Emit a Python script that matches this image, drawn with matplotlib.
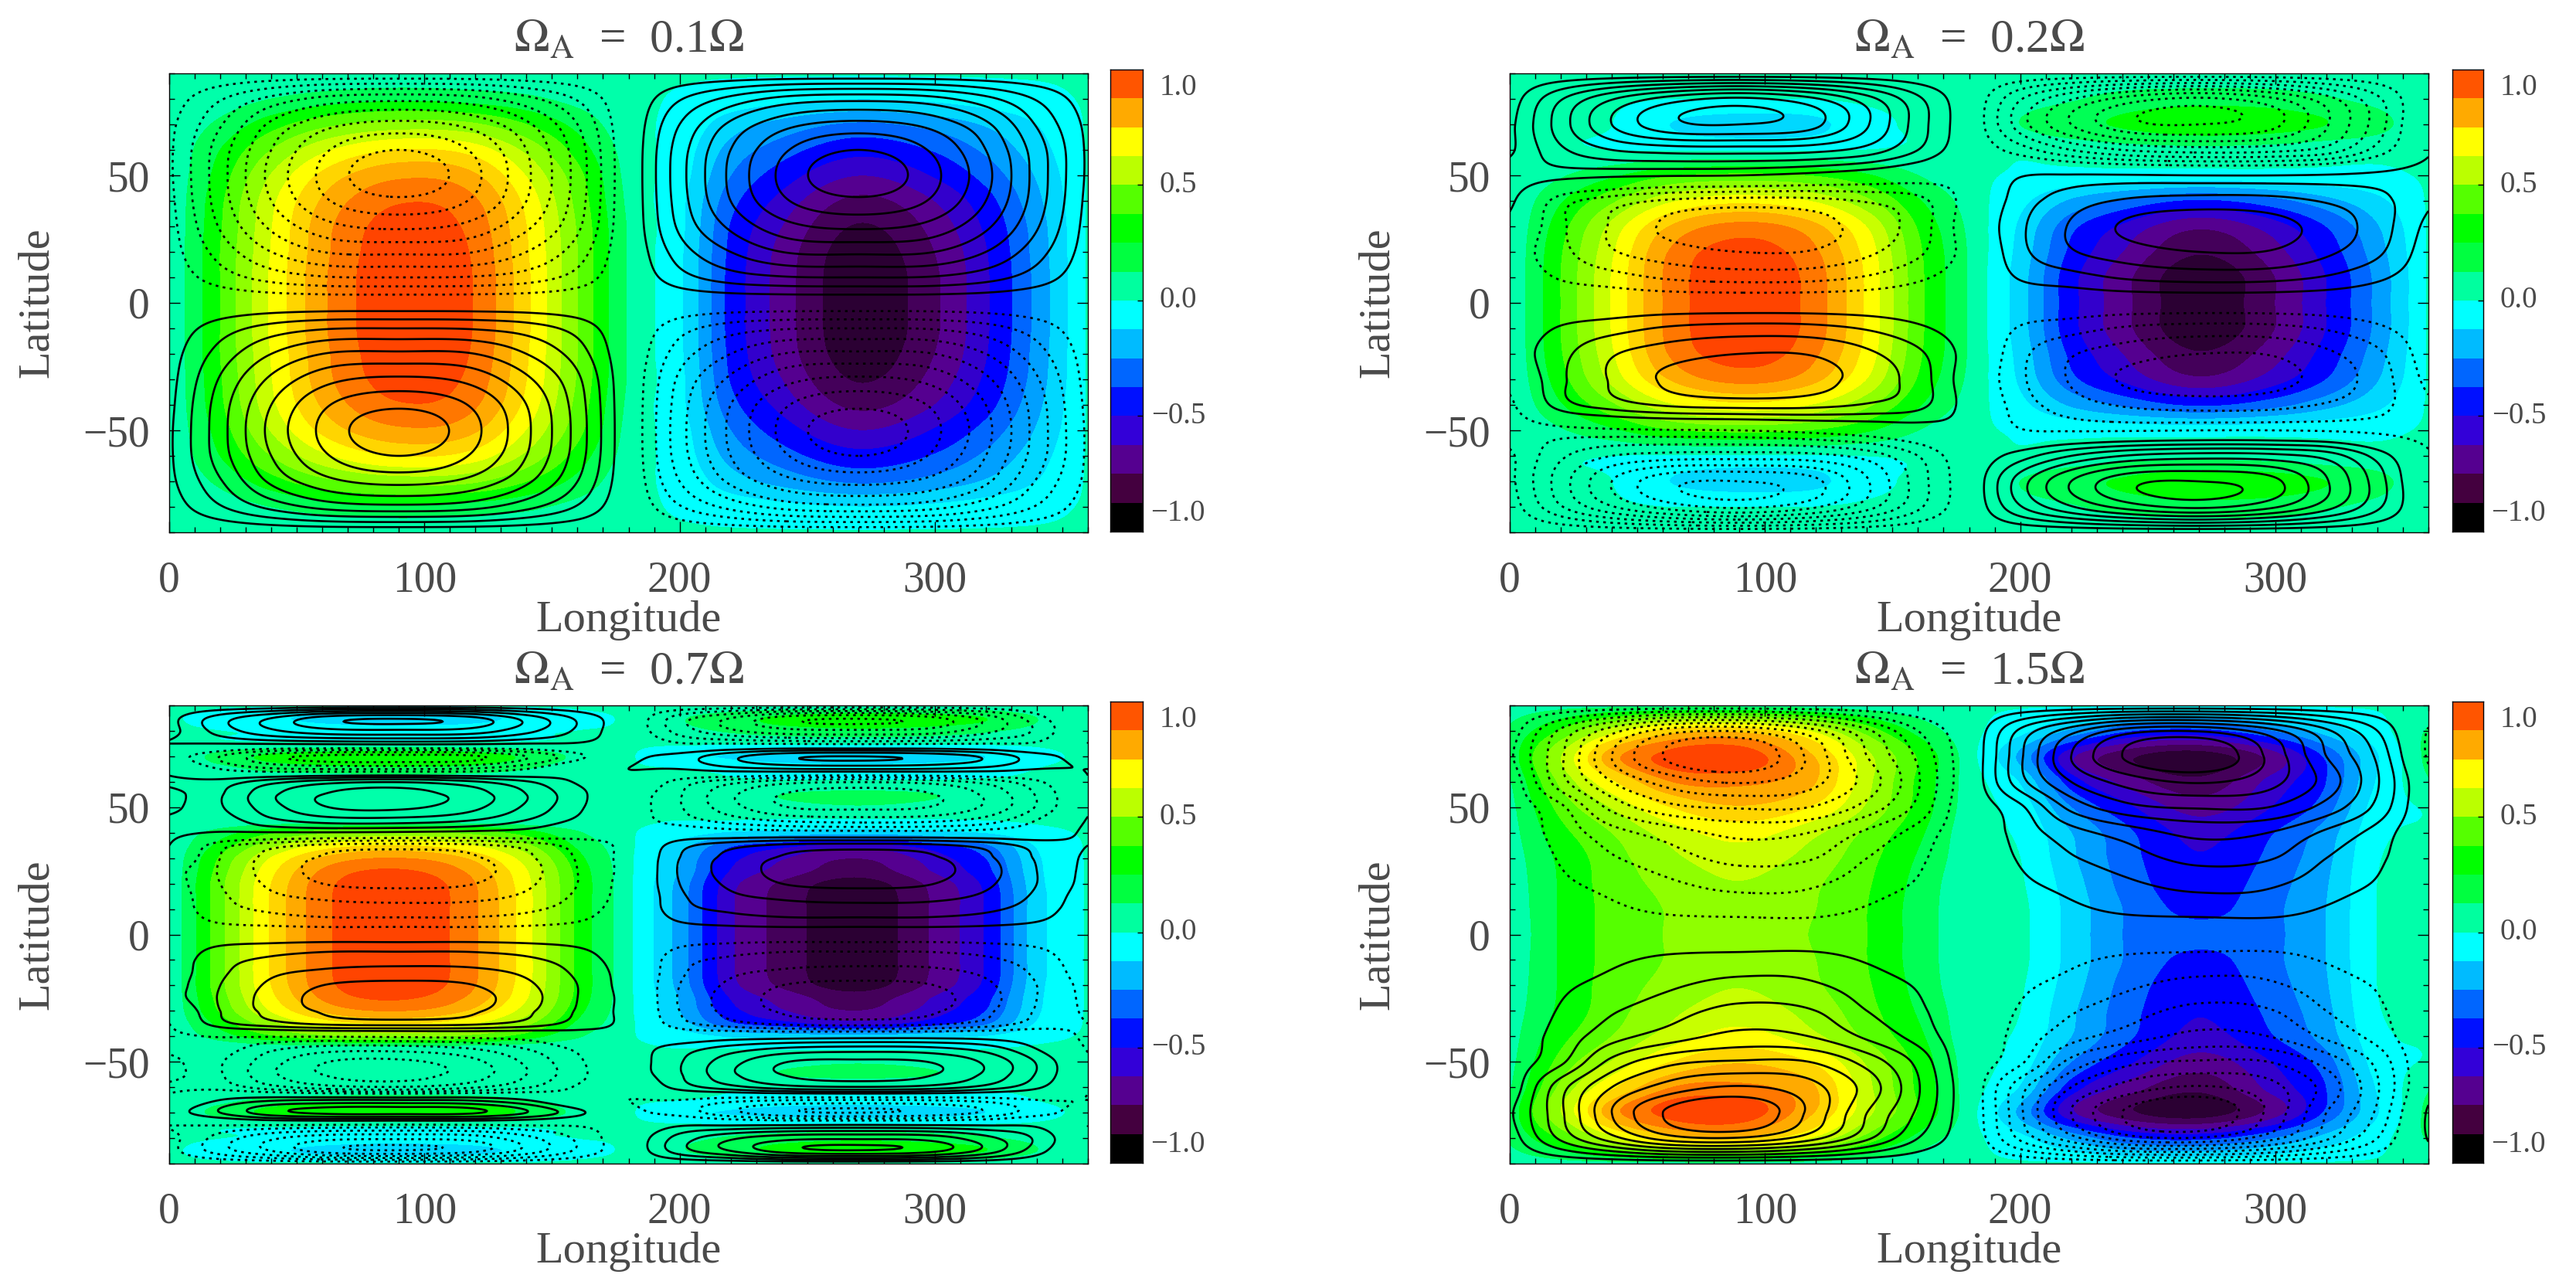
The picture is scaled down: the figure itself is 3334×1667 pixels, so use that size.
import numpy as np
import matplotlib
matplotlib.use('Agg')
import matplotlib.pyplot as plt
from matplotlib.colors import ListedColormap, BoundaryNorm

plt.rcParams['font.family'] = ['Liberation Serif', 'DejaVu Serif']
plt.rcParams['mathtext.fontset'] = 'stix'

W, H = 3334, 1667
TEXT = '#4a4a4a'

lons = [0, 20, 40, 60, 90, 120, 140, 160, 180, 200, 220, 240, 270, 300, 320, 340, 360]
lats_10 = [0, 10, 20, 30, 40, 50, 60, 70, 80, 90]
lats_5 = [0, 5, 10, 15, 20, 25, 30, 35, 40, 45, 50, 55, 60, 65, 70, 75, 80, 85, 90]

titles = ['0.1', '0.2', '0.7', '1.5']

# fill values in percent of the colour range, north half, rows go from the equator up
fill_a = [
    [1, 27, 56, 80, 98, 90, 66, 36, 8, -9, -48, -72, -97, -80, -58, -30, 1],
    [1, 27, 56, 80, 98, 90, 66, 36, 8, -9, -48, -72, -97, -80, -58, -30, 1],
    [1, 27, 55, 79, 97, 89, 65, 36, 8, -9, -47, -71, -95, -78, -57, -29, 1],
    [1, 26, 54, 78, 95, 87, 64, 35, 8, -8, -45, -67, -90, -74, -54, -28, 1],
    [1, 25, 52, 74, 90, 83, 61, 33, 7, -8, -40, -60, -81, -67, -49, -25, 1],
    [1, 22, 46, 66, 80, 74, 54, 30, 6, -6, -33, -50, -67, -55, -40, -21, 1],
    [1, 18, 36, 52, 64, 59, 43, 23, 5, -5, -26, -39, -52, -43, -31, -16, 1],
    [1, 11, 23, 33, 40, 37, 27, 15, 3, -3, -17, -26, -35, -29, -21, -11, 1],
    [1, 4, 9, 13, 16, 14, 11, 6, 2, -1, -5, -8, -11, -9, -6, -3, 1],
    [1, 1, 1, 1, 1, 1, 1, 1, 1, 1, 1, 1, 1, 1, 1, 1, 1],
]
fill_b = [
    [1, 27, 55, 82, 98, 86, 62, 30, 8, -17, -52, -74, -97, -78, -56, -30, 1],
    [1, 27, 55, 82, 98, 86, 62, 30, 8, -17, -52, -74, -97, -78, -56, -30, 1],
    [1, 26, 53, 80, 95, 83, 60, 29, 8, -15, -47, -67, -88, -71, -51, -27, 1],
    [1, 23, 48, 71, 85, 75, 54, 26, 7, -13, -41, -58, -76, -61, -44, -23, 1],
    [1, 17, 34, 51, 61, 53, 38, 19, 5, -8, -24, -35, -46, -37, -26, -14, 1],
    [1, 8, 16, 25, 29, 26, 19, 9, 2, -1, -3, -4, -5, -4, -3, -2, 1],
    [1, 1, 0, -1, -1, -1, 0, 1, 1, 1, 3, 5, 6, 5, 3, 2, 1],
    [1, 1, 0, -10, -17, -14, -3, 1, 1, 9, 15, 19, 24, 22, 18, 12, 1],
    [1, 1, 1, 0, 0, 0, 1, 1, 1, 5, 8, 12, 14, 13, 10, 6, 1],
    [1, 1, 1, 1, 1, 1, 1, 1, 1, 1, 1, 1, 1, 1, 1, 1, 1],
]
fill_c = [
    [1, 33, 65, 88, 98, 83, 58, 25, 2, -27, -65, -82, -97, -76, -55, -16, 1],
    [1, 33, 65, 88, 98, 83, 58, 25, 2, -27, -65, -82, -97, -76, -55, -16, 1],
    [1, 33, 65, 88, 98, 83, 58, 25, 2, -27, -65, -82, -97, -76, -55, -16, 1],
    [1, 33, 65, 88, 98, 83, 58, 25, 2, -27, -65, -82, -97, -76, -55, -16, 1],
    [1, 33, 64, 87, 97, 82, 57, 25, 2, -26, -63, -80, -94, -74, -53, -15, 1],
    [1, 31, 61, 83, 92, 78, 55, 24, 2, -23, -57, -71, -84, -66, -48, -14, 1],
    [1, 28, 55, 74, 82, 70, 49, 21, 2, -22, -52, -66, -78, -61, -44, -13, 1],
    [1, 21, 42, 57, 64, 54, 38, 16, 2, -17, -42, -52, -62, -49, -35, -10, 1],
    [1, 13, 25, 33, 37, 32, 22, 10, 1, -5, -13, -16, -19, -15, -11, -3, 1],
    [1, 1, 2, 2, 3, 2, 2, 1, 1, 0, 0, -1, -1, -1, 0, 1, 1],
    [1, 2, 4, 5, 6, 5, 4, 2, 1, 2, 4, 6, 8, 6, 4, 2, 1],
    [1, 2, 4, 5, 6, 5, 4, 2, 1, 3, 6, 9, 11, 9, 6, 3, 1],
    [1, 1, 1, 1, 1, 1, 1, 1, 1, 1, 1, 1, 1, 1, 1, 1, 1],
    [1, 6, 11, 13, 15, 13, 9, 3, 1, 0, -2, -5, -6, -5, -3, 0, 1],
    [1, 12, 20, 24, 26, 23, 16, 7, 1, -8, -12, -15, -17, -15, -11, -2, 1],
    [1, 1, 1, 1, 1, 1, 1, 1, 1, 1, 1, 1, 1, 1, 1, 1, 1],
    [1, 0, -1, -4, -5, -4, -1, 0, 1, 6, 10, 13, 15, 13, 10, 6, 1],
    [1, -3, -9, -14, -17, -14, -8, -2, 1, 8, 14, 20, 24, 22, 18, 9, 1],
    [1, 1, 1, 1, 1, 1, 1, 1, 1, 1, 1, 1, 1, 1, 1, 1, 1],
]
fill_d = [
    [1, 19, 30, 36, 41, 35, 27, 14, 3, 2, -15, -33, -41, -35, -22, 0, 1],
    [2, 19, 30, 36, 42, 36, 27, 14, 3, 2, -15, -33, -47, -35, -22, 0, 1],
    [3, 19, 31, 38, 45, 37, 28, 15, 3, 1, -17, -36, -51, -37, -23, 0, 1],
    [4, 20, 32, 42, 50, 41, 30, 17, 4, 0, -20, -38, -55, -40, -25, -1, 1],
    [5, 24, 36, 48, 58, 47, 34, 20, 4, -2, -22, -40, -60, -44, -28, -3, 1],
    [6, 30, 46, 62, 72, 62, 44, 24, 5, -5, -33, -52, -72, -55, -38, -6, 1],
    [8, 38, 62, 80, 84, 73, 48, 25, 5, -12, -50, -70, -86, -62, -44, -10, 8],
    [12, 45, 78, 93, 97, 72, 48, 26, 4, -25, -65, -85, -96, -72, -42, -12, 12],
    [10, 28, 50, 66, 70, 52, 32, 15, 3, -8, -25, -42, -48, -33, -18, -4, 10],
    [4, 5, 5, 5, 5, 4, 3, 2, 1, 1, 1, 1, 1, 1, 1, 1, 1],
]

# line values counted in contour numbers, north half, rows go from the equator up
line_a = [
    [0, 0, 0, 0, 0, 0, 0, 0, 0, 0, 0, 0, 0, 0, 0, 0, 0],
    [-.3, -1.5, -2.4, -2.9, -3, -2.9, -2.5, -1.6, 0, 1.6, 2.5, 2.9, 3, 2.9, 2.4, 1.5, .3],
    [-.5, -2.4, -4, -5, -5.2, -5, -4, -2.5, 0, 2.5, 4, 5, 5.2, 5, 4, 2.4, .5],
    [-.6, -3.1, -5.2, -6.6, -7.2, -6.6, -5.2, -3.2, 0, 3.2, 5.2, 6.6, 7.2, 6.6, 5.2, 3.1, .6],
    [-.7, -3.5, -6, -7.8, -8.8, -7.8, -6, -3.5, 0, 3.5, 6, 7.8, 8.8, 7.8, 6, 3.5, .7],
    [-.8, -3.6, -6.3, -8.2, -9.8, -8.2, -6.2, -3.6, 0, 3.6, 6.2, 8.2, 9.8, 8.2, 6.3, 3.6, .8],
    [-.8, -3.5, -6, -7.8, -9, -7.8, -6, -3.5, 0, 3.5, 6, 7.8, 9, 7.8, 6, 3.5, .8],
    [-.7, -2.9, -5.2, -6.6, -7.3, -6.6, -5.2, -3, 0, 3, 5.2, 6.6, 7.3, 6.6, 5.2, 2.9, .7],
    [-.4, -1.9, -3.3, -4.3, -4.7, -4.3, -3.3, -1.9, 0, 1.9, 3.3, 4.3, 4.7, 4.3, 3.3, 1.9, .4],
    [0, 0, 0, 0, 0, 0, 0, 0, 0, 0, 0, 0, 0, 0, 0, 0, 0],
]
line_b = [
    [0, 0, 0, 0, 0, 0, 0, 0, 0, 0, 0, 0, 0, 0, 0, 0, 0],
    [-.2, -1.1, -1.6, -2.1, -2.4, -2.3, -1.9, -1.2, -.3, 1.1, 1.6, 2.1, 2.4, 2.3, 1.9, 1.2, .3],
    [-.3, -1.7, -2.9, -3.5, -4, -3.9, -3.2, -2.2, -.5, 1.7, 2.9, 3.5, 4, 3.9, 3.2, 2.2, .4],
    [.5, -1.8, -3.1, -4.1, -4.7, -4.3, -3.6, -2.5, -.3, 1.8, 3.1, 4.1, 4.7, 4.3, 3.6, 2.5, .7],
    [1.3, -1.5, -2.5, -3.1, -3.4, -3.3, -2.9, -2.3, -.5, 1.5, 2.5, 3.1, 3.4, 3.3, 2.9, 2.3, 1.2],
    [1.6, 1.4, 1.2, 1.1, 1, .6, .2, -.3, -.5, .9, 1.1, 1.1, 1, 1, 1.1, 1.3, 1.6],
    [.8, 2.8, 4, 4.4, 4.5, 4.3, 3.6, 2, 0, -1.5, -3, -4, -4.5, -4.3, -3.6, -1.6, .8],
    [.7, 3.5, 6, 7.6, 8, 7.2, 5.1, 2.5, 0, -3.5, -6, -7.6, -8, -7.2, -5.1, -2.5, .7],
    [.4, 2.9, 4.9, 6.3, 7.2, 6.1, 4.4, 2.2, 0, -2.9, -4.9, -6.3, -7.2, -6.1, -4.4, -2.2, .4],
    [0, 0, 0, 0, 0, 0, 0, 0, 0, 0, 0, 0, 0, 0, 0, 0, 0],
]
line_c = [
    [0, 0, 0, 0, 0, 0, 0, 0, 0, 0, 0, 0, 0, 0, 0, 0, 0],
    [-.2, -1.1, -1.4, -1.6, -1.6, -1.6, -1.4, -1, -.2, 1, 1.4, 1.6, 1.6, 1.6, 1.4, 1, .2],
    [-.3, -1.6, -2.2, -2.5, -2.6, -2.5, -2.2, -1.5, -.3, 1.6, 2.2, 2.5, 2.6, 2.5, 2.2, 1.5, .3],
    [-.3, -1.8, -2.8, -3.2, -3.4, -3.3, -2.8, -1.8, -.4, 1.8, 2.8, 3.2, 3.4, 3.3, 2.8, 1.8, .4],
    [-.4, -2, -3.2, -4, -4.3, -4, -3.2, -2, -.4, 2, 3.2, 4, 4.3, 4, 3.2, 2, .6],
    [-.4, -2.1, -3.4, -4.3, -4.7, -4.3, -3.4, -2, -.5, 2.1, 3.4, 4.3, 4.7, 4.3, 3.4, 2, .7],
    [.4, -2, -3.3, -4.1, -4.5, -4.1, -3.2, -1.9, -.5, 2, 3.3, 4.1, 4.5, 4.1, 3.2, 1.9, .8],
    [1, -1.6, -2.6, -3.2, -3.4, -3.2, -2.6, -1.6, -.6, 1.6, 2.6, 3.2, 3.4, 3.2, 2.6, 1.6, 1],
    [1.3, .9, .9, .9, .8, .6, .4, -.3, -.6, -.1, -.3, -.4, -.5, -.5, -.4, 0, 1.3],
    [1.2, 1.5, 2.8, 3.5, 3.6, 3, 2, .8, -.4, -1.5, -2.5, -3.2, -3.5, -3.3, -2.6, -1, 1.1],
    [.7, 1.9, 3.6, 4.9, 5.2, 4.2, 2.8, 1.2, -.3, -1.9, -3.6, -4.9, -5.2, -4.9, -3.8, -1.9, .7],
    [.6, 1.9, 3.8, 5, 5.4, 4.4, 3, 1.3, -.2, -1.9, -3.8, -5, -5.4, -5, -3.8, -1.9, .6],
    [1.2, 1.4, 2.6, 3.5, 3.9, 3.1, 2.1, .9, .5, -1.4, -2.6, -3.5, -3.9, -3.5, -2.6, -1.2, .9],
    [.6, -1, -1.8, -2, -2, -1.8, -1, .5, 1, 1, 1.6, 1.9, 2, 1.9, 1.6, 1, 1],
    [-.3, -2, -3.6, -4.2, -4.3, -4.1, -3, -1.3, .6, 1.4, 2.7, 3.7, 4, 3.6, 2.8, 1.4, .5],
    [1, 1, 1.1, 1.2, 1.3, 1.2, 1, .9, .3, -.9, -1, -1.1, -1.2, -1.1, -1, -.8, 1],
    [.6, 2.4, 3.8, 4.6, 4.8, 4.5, 3.3, 1.8, 0, -2.4, -3.8, -4.6, -4.8, -4.5, -3.3, -1.8, .7],
    [.6, 2.5, 4, 5.4, 5.9, 5.2, 3.6, 1.8, 0, -2.5, -4, -5.4, -5.9, -5.2, -3.6, -1.4, .6],
    [0, 0, 0, 0, 0, 0, 0, 0, 0, 0, 0, 0, 0, 0, 0, 0, 0],
]
line_d = [
    [0, 0, 0, 0, 0, 0, 0, 0, 0, 0, 0, 0, 0, 0, 0, 0, 0],
    [0, -.4, -.8, -1.2, -1.4, -1.4, -.9, -.4, 0, .4, .8, 1.2, 1.4, 1.4, .9, .4, 0],
    [0, -.8, -1.3, -1.8, -2.3, -2.1, -1.5, -.9, 0, .8, 1.3, 1.8, 2.3, 2.1, 1.5, .9, 0],
    [0, -1.1, -1.9, -2.5, -3.3, -3, -2, -1.2, 0, 1.1, 1.9, 2.5, 3.3, 3, 2, 1.2, 0],
    [-.2, -1.4, -2.6, -3.4, -4.3, -3.9, -2.8, -1.6, -.1, 1.4, 2.6, 3.4, 4.3, 3.9, 2.8, 1.6, -.2],
    [-.3, -1.8, -4.3, -5.6, -6.1, -5.9, -4.6, -2.7, 0, 1.8, 4.3, 5.6, 6.1, 5.9, 4.6, 2.7, -.3],
    [-.2, -3.6, -6, -7.3, -8.1, -7.2, -5.6, -3.1, 0, 3.6, 6, 7.3, 8.1, 7.2, 5.6, 3.1, -.4],
    [-.8, -3.8, -7, -9, -10, -7.5, -5, -2.8, 0, 3.8, 7, 9, 10, 7.5, 5, 2.8, -1.2],
    [-.4, -3.2, -5.6, -7.4, -7.9, -6.2, -4.2, -2, 0, 3.2, 5.6, 7.4, 7.9, 6.2, 4.2, 2, -1.1],
    [0, 0, 0, 0, 0, 0, 0, 0, 0, 0, 0, 0, 0, 0, 0, 0, 0],
]

fills = [fill_a, fill_b, fill_c, fill_d]
lines = [line_a, line_b, line_c, line_d]
grid_lats = [lats_10, lats_10, lats_5, lats_10]

fill_levels = [-300, -89, -78, -67, -56, -44, -33, -22, -11, 0,
               9, 18, 27, 36, 45.5, 54.5, 64, 73, 82, 91, 300]
fill_colors = ['#2b0033', '#44005a', '#550090', '#3300cc', '#0000ff', '#0066ff', '#00a0ff',
               '#00d8ff', '#00ffff', '#00ffaa', '#00ff55', '#00ff00', '#55ff00', '#8fff00',
               '#c8ff00', '#ffff00', '#ffd500', '#ffaa00', '#ff7700', '#ff4400']
line_levels = [-9, -8, -7, -6, -5, -4, -3, -2, -1, 1, 2, 3, 4, 5, 6, 7, 8, 9]

bar_edges = np.linspace(-1, 1, 17)
bar_colors = ['#000000', '#44003f', '#550090', '#3300d8', '#0010ff', '#0066ff', '#00bbff',
              '#00ffff', '#00ff9f', '#00ff40', '#00ff00', '#55ff00', '#bbff00', '#ffff00',
              '#ffaa00', '#ff5500']
bar_ticks = [-1.0, -0.5, 0.0, 0.5, 1.0]

# left, right, top, bottom in pixels
axes_px = [(219, 1408, 95, 689), (1954, 3143, 95, 689), (219, 1408, 913, 1506), (1954, 3143, 913, 1506)]
bars_px = [(1437, 1479, 90, 688), (3174, 3214, 90, 688), (1437, 1479, 908, 1505), (3174, 3214, 908, 1505)]

lon_fine = np.linspace(0, 360, 721)
lat_fine = np.linspace(-90, 90, 541)


def px_rect(box):
    x0, x1, y0, y1 = box
    return [x0 / W, 1 - y1 / H, (x1 - x0) / W, (y1 - y0) / H]


def whole_globe(north, north_lats, sign):
    arr = np.array(north, dtype=float)
    z = np.vstack([sign * arr[:0:-1], arr])
    la = np.concatenate([-np.array(north_lats[:0:-1]), north_lats])
    return la, z


def resample(z, x, xf, axis):
    # smooth cubic between the grid values, along one axis
    x = np.asarray(x, dtype=float)
    z = np.moveaxis(z, axis, 0)
    dz = np.gradient(z, x, axis=0)
    i = np.clip(np.searchsorted(x, xf, side='right') - 1, 0, len(x) - 2)
    h = x[i + 1] - x[i]
    t = (xf - x[i]) / h
    shape = (-1,) + (1,) * (z.ndim - 1)
    t = t.reshape(shape)
    h = h.reshape(shape)
    out = ((2 * t**3 - 3 * t**2 + 1) * z[i] + (t**3 - 2 * t**2 + t) * h * dz[i]
           + (-2 * t**3 + 3 * t**2) * z[i + 1] + (t**3 - t**2) * h * dz[i + 1])
    return np.moveaxis(out, 0, axis)


def fine_field(z, la):
    return resample(resample(z, la, lat_fine, 0), lons, lon_fine, 1)


fig = plt.figure(figsize=(W / 100, H / 100), dpi=100)
cmap = ListedColormap(fill_colors)
norm = BoundaryNorm(fill_levels, cmap.N)

for i in range(4):
    ax = fig.add_axes(px_rect(axes_px[i]))

    la, z = whole_globe(fills[i], grid_lats[i], 1)
    ax.contourf(lon_fine, lat_fine, fine_field(z, la), levels=fill_levels, cmap=cmap, norm=norm,
                antialiased=False)

    la, z = whole_globe(lines[i], grid_lats[i], -1)
    styles = [(0, (1.3, 2.2)) if v < 0 else '-' for v in line_levels]
    ax.contour(lon_fine, lat_fine, fine_field(z, la), levels=line_levels, colors='k',
               linewidths=1.9, linestyles=styles)

    ax.set_xlim(0, 360)
    ax.set_ylim(-90, 90)
    ax.set_xticks([0, 100, 200, 300])
    ax.set_xticks(np.arange(0, 361, 10), minor=True)
    ax.set_yticks([-50, 0, 50])
    ax.set_yticks(np.arange(-90, 91, 10), minor=True)
    ax.tick_params(which='major', direction='in', top=True, right=True, length=10, width=1.0,
                   labelsize=40, labelcolor=TEXT, pad=18)
    ax.tick_params(which='minor', direction='in', top=True, right=True, length=5, width=1.0)
    ax.tick_params(axis='x', which='major', pad=26)
    for s in ax.spines.values():
        s.set_linewidth(1.0)

    x0, x1, y0, y1 = axes_px[i]
    xc = (x0 + x1) / 2
    fig.text(xc / W, 1 - (y1 + 114) / H, 'Longitude', ha='center', va='center',
             fontsize=42, color=TEXT)
    fig.text((x0 - 171) / W, 1 - ((y0 + y1) / 2) / H, 'Latitude', ha='center', va='center',
             rotation=90, fontsize=42, color=TEXT)
    fig.text(xc / W, 1 - (y0 - 27) / H,
             r'$\Omega_{\mathrm{A}}$  =  ' + titles[i] + r'$\Omega$',
             ha='center', va='baseline', fontsize=44, color=TEXT)

    cax = fig.add_axes(px_rect(bars_px[i]))
    cax.pcolormesh([0, 1], bar_edges, np.arange(16).reshape(-1, 1),
                   cmap=ListedColormap(bar_colors), antialiased=False)
    cax.set_xticks([])
    cax.set_ylim(-1, 1)
    cax.set_yticks([-0.5, 0.0, 0.5])
    cax.set_yticklabels([])
    cax.tick_params(axis='y', direction='in', right=True, left=False, length=5, width=1.0)
    for s in cax.spines.values():
        s.set_linewidth(1.0)
    for v in bar_ticks:
        nudge = -0.08 * np.sign(v) if abs(v) == 1 else 0
        label = f'{v:.1f}'.replace('-', '\u2212')
        cax.annotate(label, xy=(1, v + nudge), xycoords=('axes fraction', 'data'),
                     xytext=(33, 0), textcoords='offset points',
                     ha='center', va='center', fontsize=28, color=TEXT)

fig.savefig('out.png', dpi=100)
